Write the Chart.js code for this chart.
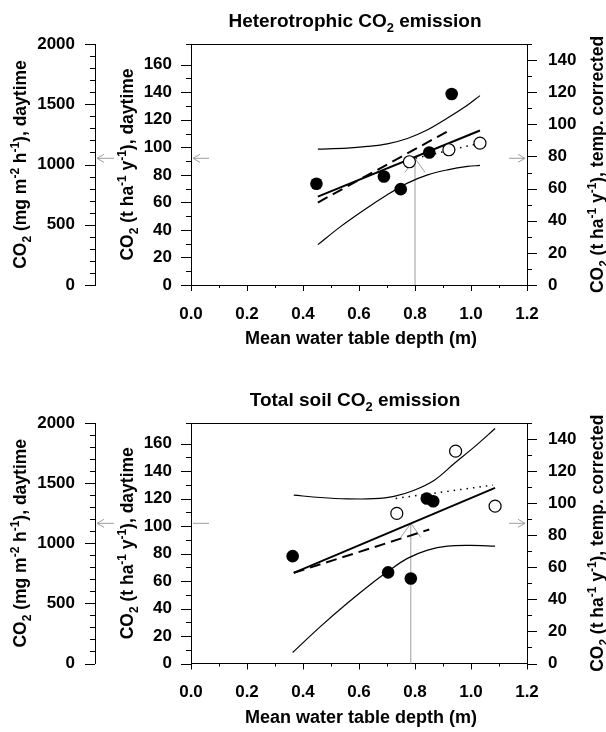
<!DOCTYPE html>
<html lang="en">
<head>
<meta charset="UTF-8">
<title>CO2 emission vs mean water table depth</title>
<script src="https://cdn.jsdelivr.net/npm/chart.js"></script>
<style>
  body { margin: 0; background: #fff; }
  canvas { display: block; }
</style>
</head>
<body>
<canvas id="hetChart" width="606" height="366"></canvas>
<canvas id="totChart" width="606" height="366"></canvas>
<script>
// --- Heterotrophic CO2 emission (t ha-1 y-1, daytime) ---
const hetFullX  = [0.448, 0.689, 0.749, 0.851, 0.931];
const hetFullY  = [73.5, 78.8, 69.6, 96.2, 138.7];
const hetOpenX  = [0.780, 0.921, 1.032];
const hetOpenY  = [89.5, 98.2, 103.0];
const hetFitX   = [0.453, 1.032];
const hetFitY   = [64.2, 112.2];
const hetDashX  = [0.453, 0.931];
const hetDashY  = [59.9, 113.2];
const hetDotX   = [0.780, 1.032];
const hetDotY   = [91.0, 103.0];
const hetUpperX = [0.453, 0.558, 0.630, 0.701, 0.773, 0.845, 0.916, 0.976, 1.032];
const hetUpperY = [98.7, 99.4, 100.6, 102.5, 106.4, 112.7, 121.2, 129.0, 137.5];
const hetLowerX = [0.453, 0.534, 0.618, 0.701, 0.773, 0.845, 0.916, 0.988, 1.032];
const hetLowerY = [29.3, 42.4, 54.5, 65.5, 74.0, 80.0, 83.6, 86.1, 86.8];

// --- Total soil CO2 emission ---
const totFullX  = [0.363, 0.704, 0.785, 0.842, 0.865];
const totFullY  = [78.1, 66.3, 61.9, 120.1, 118.1];
const totOpenX  = [0.735, 0.945, 1.086];
const totOpenY  = [109.2, 154.5, 114.5];
const totFitX   = [0.367, 1.086];
const totFitY   = [66.0, 127.8];
const totDashX  = [0.367, 0.851];
const totDashY  = [66.0, 97.5];
const totDotX   = [0.731, 1.078];
const totDotY   = [120.1, 129.8];
const totUpperX = [0.367, 0.462, 0.558, 0.653, 0.725, 0.797, 0.869, 0.940, 1.012, 1.086];
const totUpperY = [122.5, 120.8, 119.8, 119.9, 121.6, 126.1, 133.4, 145.5, 157.6, 171.0];
const totLowerX = [0.363, 0.462, 0.558, 0.653, 0.704, 0.773, 0.845, 0.916, 0.999, 1.086];
const totLowerY = [8.0, 26.8, 43.8, 59.5, 67.2, 76.5, 82.5, 85.4, 85.9, 85.4];

// read-off arrows: water table depth and fitted value (het, tot)
const readX = [0.80, 0.785];
const readY = [92.0, 102.0];

const FONT = '"Liberation Sans", Arial, Helvetica, sans-serif';
const GREY = '#9d9d9d';

function pts(xs, ys) { return xs.map((x, i) => ({ x: x, y: ys[i] })); }

// text with sub (-1) / superscript (1) pieces
function drawRich(ctx, parts, cx, cy, size, rot) {
    ctx.save();
    ctx.translate(cx, cy);
    ctx.rotate(rot);
    ctx.fillStyle = '#000';
    ctx.textAlign = 'left';
    ctx.textBaseline = 'alphabetic';
    let w = 0;
    const segs = parts.map(p => {
        const s = p[1] ? size * 0.68 : size;
        ctx.font = 'bold ' + s + 'px ' + FONT;
        const m = ctx.measureText(p[0]).width;
        w += m;
        return { t: p[0], s: s, m: m, d: p[1] };
    });
    let x = -w / 2;
    const base = size * 0.36;
    segs.forEach(g => {
        ctx.font = 'bold ' + g.s + 'px ' + FONT;
        const dy = g.d === -1 ? size * 0.28 : (g.d === 1 ? -size * 0.4 : 0);
        ctx.fillText(g.t, x, base + dy);
        x += g.m;
    });
    ctx.restore();
}

function line(ctx, x1, y1, x2, y2) {
    ctx.beginPath(); ctx.moveTo(x1, y1); ctx.lineTo(x2, y2); ctx.stroke();
}

const yFarTitle = [['CO', 0], ['2', -1], [' (mg m', 0], ['-2', 1], [' h', 0], ['-1', 1], ['), daytime', 0]];
const yTitle = [['CO', 0], ['2', -1], [' (t ha', 0], ['-1', 1], [' y', 0], ['-1', 1], ['), daytime', 0]];
const yRTitle = [['CO', 0], ['2', -1], [' (t ha', 0], ['-1', 1], [' y', 0], ['-1', 1], ['), temp. corrected', 0]];
const xTitle = [['Mean water table depth (m)', 0]];

function makeChart(id, d) {
    const tickFont = { family: FONT, weight: 'bold', size: 17 };
    const hidden = { drawOnChartArea: false, color: 'rgba(0,0,0,0)', tickLength: 10 };
    const border = { display: true, color: '#000', width: 1 };

    const deco = {
        id: 'deco',
        beforeDatasetsDraw(chart) {
            const ctx = chart.ctx, a = chart.chartArea;
            const sx = chart.scales.x, sy = chart.scales.y;
            const px = sx.getPixelForValue(readX[d.k]);
            const py = sy.getPixelForValue(readY[d.k]);
            ctx.save();
            ctx.strokeStyle = GREY;
            ctx.lineWidth = 1;
            // vertical read-off arrow
            line(ctx, px, a.bottom, px, py);
            line(ctx, px - 10, py + 14, px, py);
            line(ctx, px + 10, py + 14, px, py);
            // far-left axis arrow
            const fl = chart.scales.yFar.right + 2;
            line(ctx, fl, py, fl + 17, py);
            line(ctx, fl, py, fl + 7, py - 4);
            line(ctx, fl, py, fl + 7, py + 4);
            // inner-left
            const il = a.left + 2;
            line(ctx, il, py, il + 16, py);
            if (d.innerHead) {
                line(ctx, il, py, il + 7, py - 4);
                line(ctx, il, py, il + 7, py + 4);
            }
            // right
            const rr = a.right - 2;
            line(ctx, rr - 16, py, rr, py);
            line(ctx, rr, py, rr - 7, py - 4);
            line(ctx, rr, py, rr - 7, py + 4);
            ctx.restore();
        },
        afterDraw(chart) {
            const ctx = chart.ctx, a = chart.chartArea;
            ctx.save();
            ctx.strokeStyle = '#000';
            ctx.lineWidth = 1;
            line(ctx, a.left, a.top + 0.5, a.right, a.top + 0.5);
            // tick marks, major / minor
            const spec = [
                ['x', v => Math.round(v * 10) % 2 === 0, 6, 3],
                ['y', v => v % 20 === 0, 10, 5],
                ['yFar', v => v % 500 === 0, 10, 5],
                ['yR', v => v % 20 === 0, 10, 5]
            ];
            spec.forEach(sp => {
                const s = chart.scales[sp[0]];
                s.ticks.forEach(t => {
                    const len = sp[1](t.value) ? sp[2] : sp[3];
                    const p = Math.round(s.getPixelForValue(t.value)) + 0.5;
                    if (sp[0] === 'x') line(ctx, p, s.top, p, s.top + len);
                    else if (sp[0] === 'yR') line(ctx, s.left, p, s.left + len, p);
                    else line(ctx, s.right - len, p, s.right, p);
                });
            });
            ctx.restore();
            const cy = (a.top + a.bottom) / 2;
            drawRich(ctx, d.title, (a.left + a.right) / 2 - 4, a.top - 24, 19, 0);
            drawRich(ctx, xTitle, (a.left + a.right) / 2 + 2, a.bottom + 53, 18, 0);
            drawRich(ctx, yFarTitle, 20, cy, 17.5, -Math.PI / 2);
            drawRich(ctx, yTitle, 127, cy, 17.5, -Math.PI / 2);
            drawRich(ctx, yRTitle, 597, cy, 17.5, -Math.PI / 2);
        }
    };

    const ax = { xAxisID: 'x', yAxisID: 'y' };
    return new Chart(document.getElementById(id), {
        type: 'scatter',
        data: {
            datasets: [
                Object.assign({ data: pts(d.fullX, d.fullY), pointRadius: 6.3, backgroundColor: '#000', borderColor: '#000', borderWidth: 0 }, ax),
                Object.assign({ data: pts(d.openX, d.openY), pointRadius: 6, backgroundColor: '#fff', borderColor: '#000', borderWidth: 1.2 }, ax),
                Object.assign({ data: pts(d.fitX, d.fitY), showLine: true, pointRadius: 0, borderColor: '#000', borderWidth: 2 }, ax),
                Object.assign({ data: pts(d.dashX, d.dashY), showLine: true, pointRadius: 0, borderColor: '#000', borderWidth: 2, borderDash: [11, 6] }, ax),
                Object.assign({ data: pts(d.dotX, d.dotY), showLine: true, pointRadius: 0, borderColor: '#000', borderWidth: 1.5, borderDash: [1.5, 5] }, ax),
                Object.assign({ data: pts(d.upX, d.upY), showLine: true, pointRadius: 0, borderColor: '#000', borderWidth: 1.2, tension: 0.35 }, ax),
                Object.assign({ data: pts(d.loX, d.loY), showLine: true, pointRadius: 0, borderColor: '#000', borderWidth: 1.2, tension: 0.35 }, ax)
            ]
        },
        options: {
            responsive: false,
            animation: false,
            layout: { padding: { top: d.padTop, left: 0, right: 0, bottom: 0 } },
            plugins: { legend: { display: false }, tooltip: { enabled: false } },
            scales: {
                x: {
                    type: 'linear', position: 'bottom', min: 0, max: 1.2,
                    grid: Object.assign({}, hidden, { tickLength: 6 }), border: border,
                    ticks: { stepSize: 0.1, autoSkip: false, maxRotation: 0, color: '#000', font: tickFont, padding: 13,
                             callback: v => Math.round(v * 10) % 2 === 0 ? v.toFixed(1) : '' },
                    afterFit: s => { s.height = d.xHeight; }
                },
                yFar: {
                    type: 'linear', position: 'left', weight: 2, min: 0, max: 2000,
                    grid: hidden, border: border,
                    ticks: { stepSize: 100, autoSkip: false, color: '#000', font: tickFont, padding: 10,
                             callback: v => v % 500 === 0 ? v : '' },
                    afterFit: s => { s.width = 95; }
                },
                y: {
                    type: 'linear', position: 'left', weight: 1, min: 0, max: 175,
                    grid: hidden, border: border,
                    ticks: { stepSize: 10, autoSkip: false, color: '#000', font: tickFont, padding: 9,
                             callback: v => v % 20 === 0 ? v : '' },
                    afterFit: s => { s.width = 96; }
                },
                yR: {
                    type: 'linear', position: 'right', min: 0, max: 150,
                    grid: hidden, border: border,
                    ticks: { stepSize: 10, autoSkip: false, color: '#000', font: tickFont, padding: 11,
                             callback: v => v % 20 === 0 ? v : '' },
                    afterFit: s => { s.width = 79; }
                }
            }
        },
        plugins: [deco]
    });
}

makeChart('hetChart', {
    k: 0, innerHead: true, padTop: 44, xHeight: 81,
    title: [['Heterotrophic CO', 0], ['2', -1], [' emission', 0]],
    fullX: hetFullX, fullY: hetFullY, openX: hetOpenX, openY: hetOpenY,
    fitX: hetFitX, fitY: hetFitY, dashX: hetDashX, dashY: hetDashY, dotX: hetDotX, dotY: hetDotY,
    upX: hetUpperX, upY: hetUpperY, loX: hetLowerX, loY: hetLowerY
});

makeChart('totChart', {
    k: 1, innerHead: false, padTop: 57, xHeight: 68.5,
    title: [['Total soil CO', 0], ['2', -1], [' emission', 0]],
    fullX: totFullX, fullY: totFullY, openX: totOpenX, openY: totOpenY,
    fitX: totFitX, fitY: totFitY, dashX: totDashX, dashY: totDashY, dotX: totDotX, dotY: totDotY,
    upX: totUpperX, upY: totUpperY, loX: totLowerX, loY: totLowerY
});
</script>
</body>
</html>
